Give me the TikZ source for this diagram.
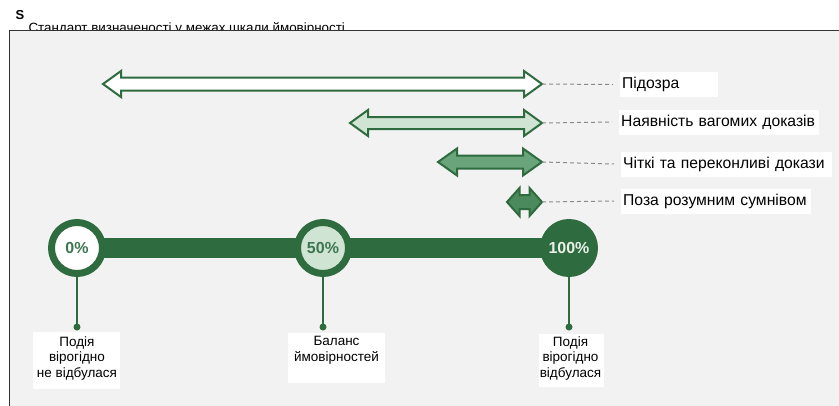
\documentclass[tikz,border=0pt]{standalone}
\usepackage{fontspec}
\setmainfont{Liberation Sans}
\definecolor{bggray}{HTML}{F2F2F2}
\definecolor{framegray}{HTML}{333333}
\definecolor{dkgreen}{HTML}{2E6B3F}
\definecolor{txtgreen}{HTML}{3D7650}
\definecolor{lightgreen}{HTML}{D0E4D3}
\definecolor{midgreen}{HTML}{6AA47A}
\definecolor{deepgreen}{HTML}{4B8A5D}
\definecolor{dashgray}{HTML}{8A8A8A}
\definecolor{paletext}{HTML}{E8F0E8}
\newcommand\dbarrow[8]{%
  \draw[arrowline, fill=#8] (#2,#4) -- (#2+#5,#4-#6) -- (#2+#5,#4-#7) -- (#3-#5,#4-#7) -- (#3-#5,#4-#6) -- (#3,#4) -- (#3-#5,#4+#6) -- (#3-#5,#4+#7) -- (#2+#5,#4+#7) -- (#2+#5,#4+#6) -- cycle;
  \coordinate (#1L) at (#2,#4);
  \coordinate (#1R) at (#3,#4);}
\begin{document}
\begin{tikzpicture}[x=1pt,y=-1pt,
  arrowline/.style={draw=dkgreen, line width=2pt, line join=miter},
  conn/.style={dashgray, line width=1pt, dash pattern=on 4pt off 3pt},
  rlabel/.style={anchor=west, fill=white, inner xsep=2pt, inner ysep=0pt, align=left, font=\fontsize{15.7}{18}\selectfont, minimum height=25pt},
  blabel/.style={align=center, font=\fontsize{13.5}{15.5}\selectfont, inner sep=0pt},
  ring/.style={circle, draw=dkgreen, line width=7pt, minimum size=51pt, inner sep=0pt, font=\bfseries\fontsize{16}{18}\selectfont},
  stem/.style={dkgreen, line width=2.5pt},
  dot/.style={circle, fill=dkgreen, inner sep=0pt, minimum size=7pt}]
\useasboundingbox (0,0) rectangle (839,405);
\fill[white] (0,0) rectangle (839,405);
% title
\node[anchor=base west, inner sep=0pt, font=\bfseries\fontsize{13}{15}\selectfont] (s) at (15.5,19.3) {S};
\node[anchor=base west, inner sep=0pt, font=\fontsize{13.4}{15}\selectfont] (title) at (28.3,32) {Стандарт визначеності у межах шкали ймовірності};
% frame
\filldraw[fill=bggray, draw=framegray, line width=1pt] (9,30.2) rectangle (850,420);
% arrows
\dbarrow{a1}{103}{542}{84}{18}{13}{6.5}{white}
\dbarrow{a2}{350}{542}{123}{18}{13}{6}{lightgreen}
\dbarrow{a3}{438}{542}{162}{19}{13.5}{6.5}{midgreen}
\dbarrow{a4}{507}{542}{202}{12.5}{14}{7}{deepgreen}
% right labels
\node[rlabel, text width=94pt] (l1) at (620,84.5) {\mbox{Підозра}};
\node[rlabel, text width=196pt] (l2) at (619,122) {\mbox{Наявність вагомих доказів}};
\node[rlabel, text width=207pt] (l3) at (621,164) {\mbox{Чіткі та переконливі докази}};
\node[rlabel, text width=186pt] (l4) at (621,201) {\mbox{Поза розумним сумнівом}};
\draw[conn] (a1R) -- ([xshift=-7pt]l1.west);
\draw[conn] (a2R) -- ([xshift=-7pt]l2.west);
\draw[conn] (a3R) -- ([xshift=-7pt]l3.west);
\draw[conn] (a4R) -- ([xshift=-7pt]l4.west);
% timeline
\coordinate (p0) at (77,248);
\coordinate (p50) at (323,248);
\coordinate (p100) at (569,248);
\draw[dkgreen, line width=20pt] (p0) -- (p100);
\node[ring, fill=white, text=txtgreen] (c0) at (p0) {0\%};
\node[ring, fill=lightgreen, text=txtgreen] (c50) at (p50) {50\%};
\node[ring, fill=dkgreen, text=paletext] (c100) at (p100) {100\%};
% stems and dots
\node[dot] (d0) at (77,327) {};
\node[dot] (d50) at (323,327) {};
\node[dot] (d100) at (569,327) {};
\draw[stem] (c0.south) -- (d0.center);
\draw[stem] (c50.south) -- (d50.center);
\draw[stem] (c100.south) -- (d100.center);
% bottom labels
\fill[white] (33,332) rectangle (120,389);
\fill[white] (288,333) rectangle (385,383);
\fill[white] (539,334) rectangle (604,387);
\node[blabel] (b0) at (77,358.5) {Подія\\вірогідно\\не відбулася};
\node[blabel] (b50) at (336.5,350.5) {Баланс\\ймовірностей};
\node[blabel] (b100) at (570.5,358.5) {Подія\\вірогідно\\відбулася};
\end{tikzpicture}
\end{document}
